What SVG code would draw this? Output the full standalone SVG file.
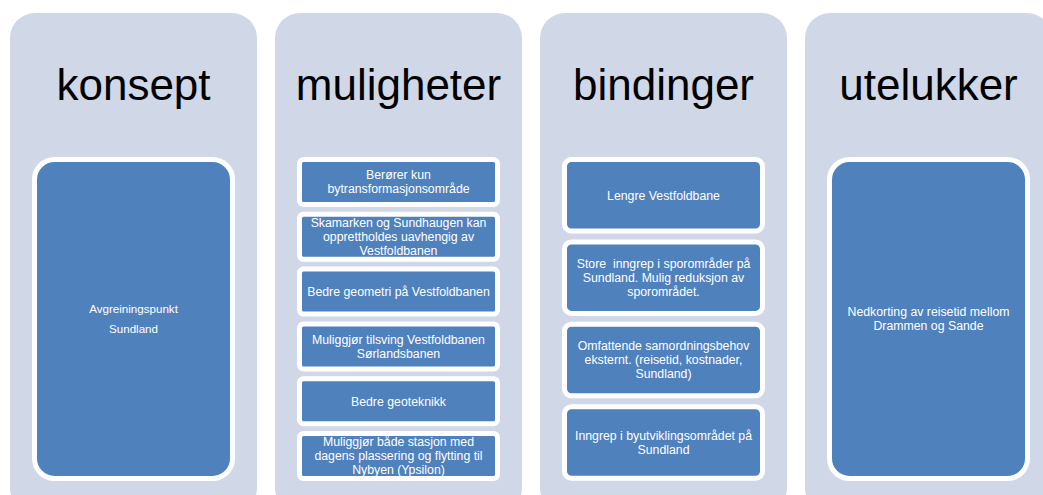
<svg xmlns="http://www.w3.org/2000/svg" width="1043" height="495" viewBox="0 0 1043 495">
  <style>
    .col { fill: #D0D8E8; }
    .head { font-family: "Liberation Sans", Arial, sans-serif; font-size: 44px; fill: #000000; text-anchor: middle; }
    .box { fill: #4F81BD; stroke: #FFFFFF; stroke-width: 5; }
    .txt { font-family: "Liberation Sans", Arial, sans-serif; font-size: 12.3px; fill: #FFFFFF; text-anchor: middle; white-space: pre; }
    .txt1 { font-family: "Liberation Sans", Arial, sans-serif; font-size: 11.6px; fill: #FFFFFF; text-anchor: middle; }
  </style>
  <rect width="1043" height="495" fill="#FFFFFF"/>

  <!-- Column 1: konsept -->
  <g id="col-konsept">
    <rect class="col" x="10" y="13" width="247" height="500" rx="25"/>
    <text class="head" x="133.5" y="100">konsept</text>
    <g id="konsept-1">
      <rect class="box" x="34.5" y="159.5" width="198" height="319" rx="20"/>
      <text class="txt1" x="133.5" y="312.5">Avgreiningspunkt</text>
      <text class="txt1" x="133.5" y="332.5">Sundland</text>
    </g>
  </g>

  <!-- Column 2: muligheter -->
  <g id="col-muligheter">
    <rect class="col" x="275" y="13" width="247" height="500" rx="25"/>
    <text class="head" x="398.5" y="100">muligheter</text>
    <g id="muligheter-1">
      <rect class="box" x="299.5" y="159.5" width="198" height="45" rx="4"/>
      <text class="txt" x="398.5" y="179.4">Berører kun</text>
      <text class="txt" x="398.5" y="193.4">bytransformasjonsområde</text>
    </g>
    <g id="muligheter-2">
      <rect class="box" x="299.5" y="214.3" width="198" height="45" rx="4"/>
      <text class="txt" x="398.5" y="227.2">Skamarken og Sundhaugen kan</text>
      <text class="txt" x="398.5" y="241.2">opprettholdes uavhengig av</text>
      <text class="txt" x="398.5" y="255.2">Vestfoldbanen</text>
    </g>
    <g id="muligheter-3">
      <rect class="box" x="299.5" y="269.1" width="198" height="45" rx="4"/>
      <text class="txt" x="398.5" y="296">Bedre geometri på Vestfoldbanen</text>
    </g>
    <g id="muligheter-4">
      <rect class="box" x="299.5" y="323.9" width="198" height="45" rx="4"/>
      <text class="txt" x="398.5" y="343.8">Muliggjør tilsving Vestfoldbanen</text>
      <text class="txt" x="398.5" y="357.8">Sørlandsbanen</text>
    </g>
    <g id="muligheter-5">
      <rect class="box" x="299.5" y="378.7" width="198" height="45" rx="4"/>
      <text class="txt" x="398.5" y="405.6">Bedre geoteknikk</text>
    </g>
    <g id="muligheter-6">
      <rect class="box" x="299.5" y="433.5" width="198" height="45" rx="4"/>
      <text class="txt" x="398.5" y="446.4">Muliggjør både stasjon med</text>
      <text class="txt" x="398.5" y="460.4">dagens plassering og flytting til</text>
      <text class="txt" x="398.5" y="474.4">Nybyen (Ypsilon)</text>
    </g>
  </g>

  <!-- Column 3: bindinger -->
  <g id="col-bindinger">
    <rect class="col" x="540" y="13" width="247" height="500" rx="25"/>
    <text class="head" x="663.5" y="100">bindinger</text>
    <g id="bindinger-1">
      <rect class="box" x="564.5" y="159.5" width="198" height="71.5" rx="7"/>
      <text class="txt" x="663.5" y="199.6">Lengre Vestfoldbane</text>
    </g>
    <g id="bindinger-2">
      <rect class="box" x="564.5" y="241.9" width="198" height="71.5" rx="7"/>
      <text class="txt" x="663.5" y="268">Store  inngrep i sporområder på</text>
      <text class="txt" x="663.5" y="282">Sundland. Mulig reduksjon av</text>
      <text class="txt" x="663.5" y="296">sporområdet.</text>
    </g>
    <g id="bindinger-3">
      <rect class="box" x="564.5" y="324.3" width="198" height="71.5" rx="7"/>
      <text class="txt" x="663.5" y="350.4">Omfattende samordningsbehov</text>
      <text class="txt" x="663.5" y="364.4">eksternt. (reisetid, kostnader,</text>
      <text class="txt" x="663.5" y="378.4">Sundland)</text>
    </g>
    <g id="bindinger-4">
      <rect class="box" x="564.5" y="406.7" width="198" height="71.5" rx="7"/>
      <text class="txt" x="663.5" y="439.8">Inngrep i byutviklingsområdet på</text>
      <text class="txt" x="663.5" y="453.8">Sundland</text>
    </g>
  </g>

  <!-- Column 4: utelukker -->
  <g id="col-utelukker">
    <rect class="col" x="805" y="13" width="247" height="500" rx="25"/>
    <text class="head" x="928.5" y="100">utelukker</text>
    <g id="utelukker-1">
      <rect class="box" x="829.5" y="159.5" width="198" height="319" rx="20"/>
      <text class="txt" x="928.5" y="316.4">Nedkorting av reisetid mellom</text>
      <text class="txt" x="928.5" y="330.4">Drammen og Sande</text>
    </g>
  </g>

  <!-- No connectors are drawn between the columns -->
  <g id="connectors"/>
</svg>
